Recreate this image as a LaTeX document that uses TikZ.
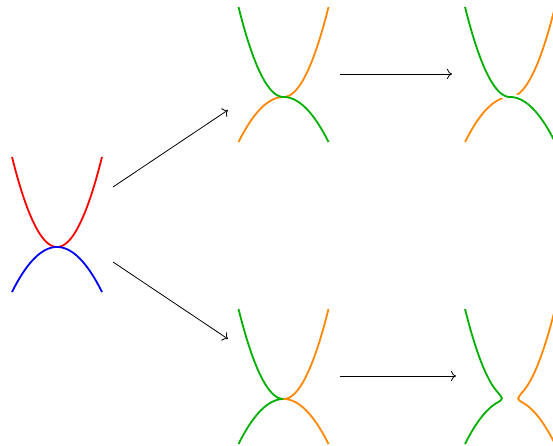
\documentclass[tikz,border=0pt]{standalone}
\usetikzlibrary{arrows.meta}
\definecolor{bgreen}{RGB}{0,176,0}
\definecolor{borange}{RGB}{255,136,0}
\tikzset{
  band/.style={line width=1.8pt},
  over/.style={band, preaction={draw=white, line width=6.5pt}},
  conn/.style={-{Computer Modern Rightarrow[length=5pt,width=10pt]}, line width=0.8pt, black},
}
\begin{document}
\begin{tikzpicture}[x=1pt,y=-1pt]
\useasboundingbox (0,0) rectangle (553,446);
% left panel
\draw[band,red] plot[domain=-45:45,samples=61] ({57+\x},{247-\x*\x/22.5});
\draw[band,blue] plot[domain=-45:45,samples=61] ({57+\x},{247+\x*\x/45});
% top middle
\draw[band,borange] plot[domain=-45:0,samples=31] ({283.5+\x},{97+\x*\x/45}) -- plot[domain=0:45,samples=31] ({283.5+\x},{97-\x*\x/22.5});
\draw[band,bgreen] plot[domain=-45:0,samples=31] ({283.5+\x},{97-\x*\x/22.5}) -- plot[domain=0:45,samples=31] ({283.5+\x},{97+\x*\x/45});
% top right
\draw[band,borange] plot[domain=-45:0,samples=31] ({510+\x},{97+\x*\x/45}) -- plot[domain=0:45,samples=31] ({510+\x},{97-\x*\x/22.5});
\draw[over,bgreen] plot[domain=-45:0,samples=31] ({510+\x},{97-\x*\x/22.5}) -- plot[domain=0:45,samples=31] ({510+\x},{97+\x*\x/45});
% bottom middle
\draw[band,bgreen] plot[domain=-45:0,samples=31] ({283.5+\x},{399-\x*\x/22.5}) -- plot[domain=0:-45,samples=31] ({283.5+\x},{399+\x*\x/45});
\draw[band,borange] plot[domain=45:0,samples=31] ({283.5+\x},{399-\x*\x/22.5}) -- plot[domain=0:45,samples=31] ({283.5+\x},{399+\x*\x/45});
% bottom right
\draw[band,bgreen] plot[domain=-45:-13,samples=31] ({510+\x},{399-\x*\x/22.5}) .. controls (503.5,399) .. (497,{399+169/45}) -- plot[domain=-13:-45,samples=31] ({510+\x},{399+\x*\x/45});
\draw[band,borange] plot[domain=45:13,samples=31] ({510+\x},{399-\x*\x/22.5}) .. controls (516.5,399) .. (523,{399+169/45}) -- plot[domain=13:45,samples=31] ({510+\x},{399+\x*\x/45});
% connectors
\coordinate (l1) at (113,187);
\coordinate (t1) at (228,110);
\coordinate (l2) at (113,262);
\coordinate (b1) at (228,339);
\coordinate (t2) at (340,74);
\coordinate (t3) at (452,74);
\coordinate (b2) at (340,376);
\coordinate (b3) at (456,376);
\draw[conn] (l1) -- (t1);
\draw[conn] (l2) -- (b1);
\draw[conn] (t2) -- (t3);
\draw[conn] (b2) -- (b3);
\end{tikzpicture}
\end{document}
